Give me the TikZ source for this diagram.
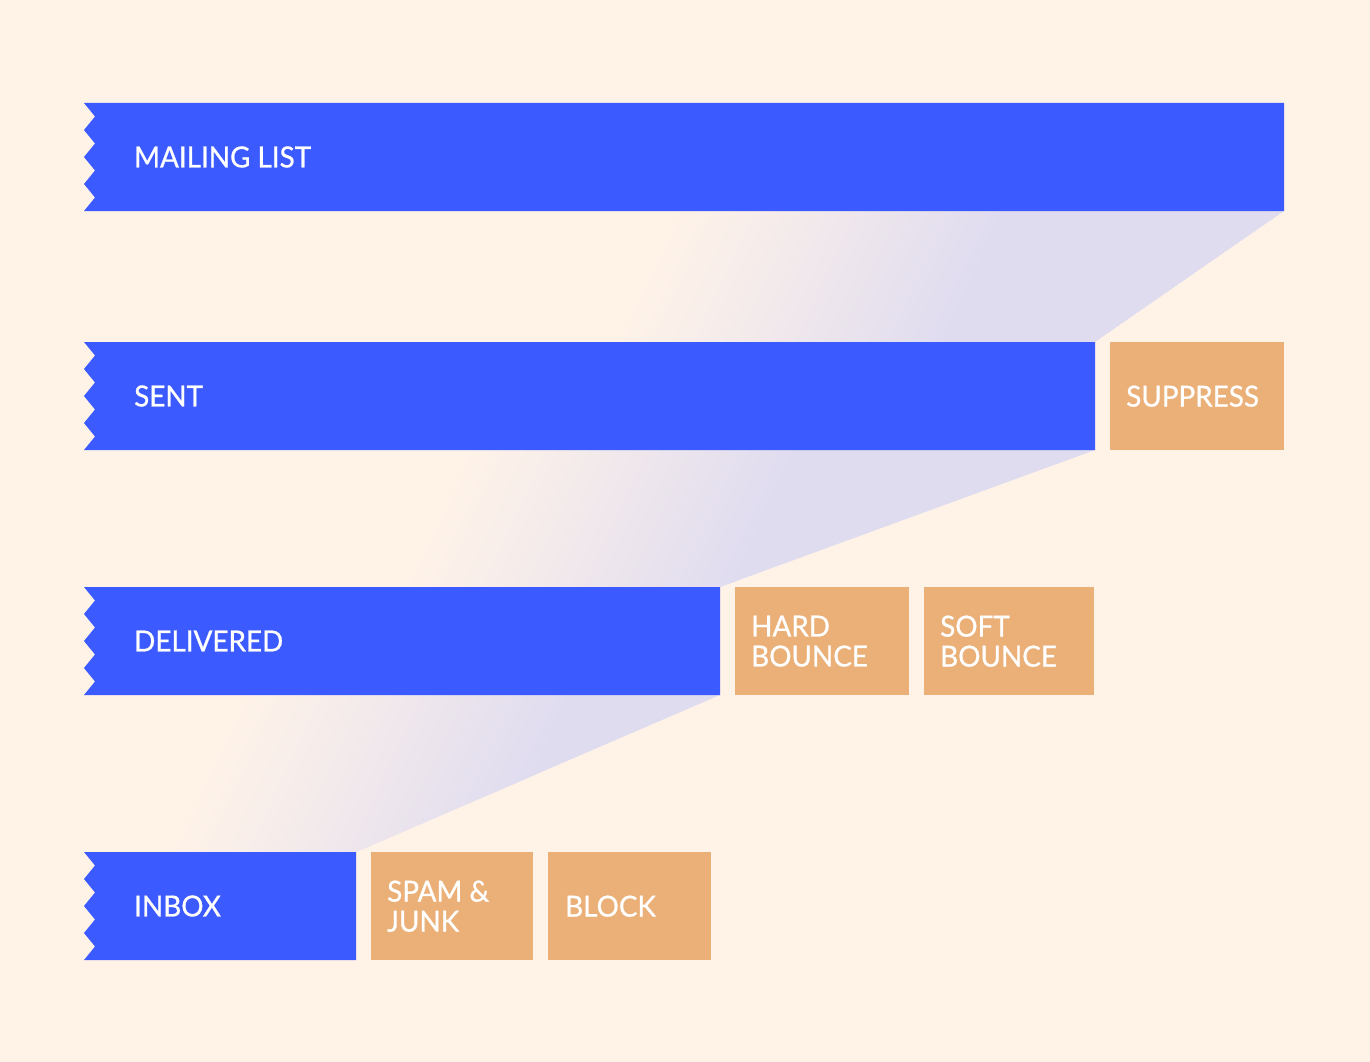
\documentclass[tikz,border=0pt]{standalone}
\usepackage{fontspec}
\setmainfont{Lato}[FakeBold=0.8,FakeStretch=0.96]
\definecolor{bgc}{RGB}{255,243,232}
\definecolor{bluc}{RGB}{59,90,255}
\definecolor{orgc}{RGB}{235,176,120}
\definecolor{lavc}{RGB}{224,220,240}
\tikzset{
  lbl/.style={text=white, font=\fontsize{29}{30}\selectfont, inner sep=0pt, anchor=west, align=left},
  obox/.style={fill=orgc, anchor=north west, minimum height=108pt, inner sep=0pt, draw=none},
  ribbonfill/.style={fill=bluc},
}
\newcommand\ribbonbar[2]{%
  \fill[ribbonfill] (84,#2) -- (#1,#2) -- (#1,#2+108) -- (84,#2+108) -- (95,#2+94.5) -- (84,#2+81) -- (95,#2+67.5) -- (84,#2+54) -- (95,#2+40.5) -- (84,#2+27) -- (95,#2+13.5) -- cycle;}
\newcommand\fadeband[3]{%
  \begin{scope}
    \clip #1;
    \fill[lavc] #1;
    \begin{scope}[transform canvas={rotate around={-25:(#2,#3)}}]
      \fill[bgc] (#2-2000,#3-700) rectangle (#2-149,#3+700);
      \shade[left color=bgc, right color=lavc] (#2-150,#3-700) rectangle (#2+150,#3+700);
    \end{scope}
  \end{scope}}
\begin{document}
\begin{tikzpicture}[x=1pt,y=-1pt]
  \useasboundingbox (0,0) rectangle (1370,1062);
  \fill[bgc] (0,0) rectangle (1370,1062);

  % gradient funnels
  \fadeband{(84,211) -- (1284,211) -- (1095,342) -- (84,342) -- cycle}{810}{276}
  \fadeband{(84,450) -- (1095,450) -- (720,587) -- (84,587) -- cycle}{600}{518}
  \fadeband{(84,695) -- (720,695) -- (356,852) -- (84,852) -- cycle}{370}{773}

  % blue ribbons
  \ribbonbar{1284}{103}
  \ribbonbar{1095}{342}
  \ribbonbar{720}{587}
  \ribbonbar{356}{852}
  \coordinate (ml) at (84,157);
  \coordinate (se) at (84,396);
  \coordinate (de) at (84,641);
  \coordinate (ib) at (84,906);

  \node[lbl] (tml) at ([xshift=50pt]ml) {MAILING LIST};
  \node[lbl] (tse) at ([xshift=50pt]se) {SENT};
  \node[lbl] (tde) at ([xshift=50pt]de) {DELIVERED};
  \node[lbl] (tib) at ([xshift=50pt]ib) {INBOX};

  % orange boxes
  \node[obox, minimum width=174pt] (sup) at (1110,342) {};
  \node[obox, minimum width=174pt] (hard) at (735,587) {};
  \node[obox, minimum width=170pt] (soft) at (924,587) {};
  \node[obox, minimum width=162pt] (spam) at (371,852) {};
  \node[obox, minimum width=163pt] (block) at (548,852) {};

  \node[lbl] (tsup) at ([xshift=16pt]sup.west) {SUPPRESS};
  \node[lbl] (thard) at ([xshift=16pt]hard.west) {HARD\\BOUNCE};
  \node[lbl] (tsoft) at ([xshift=16pt]soft.west) {SOFT\\BOUNCE};
  \node[lbl] (tspam) at ([xshift=16pt]spam.west) {SPAM \&\\JUNK};
  \node[lbl] (tblock) at ([xshift=17pt]block.west) {BLOCK};
\end{tikzpicture}
\end{document}
